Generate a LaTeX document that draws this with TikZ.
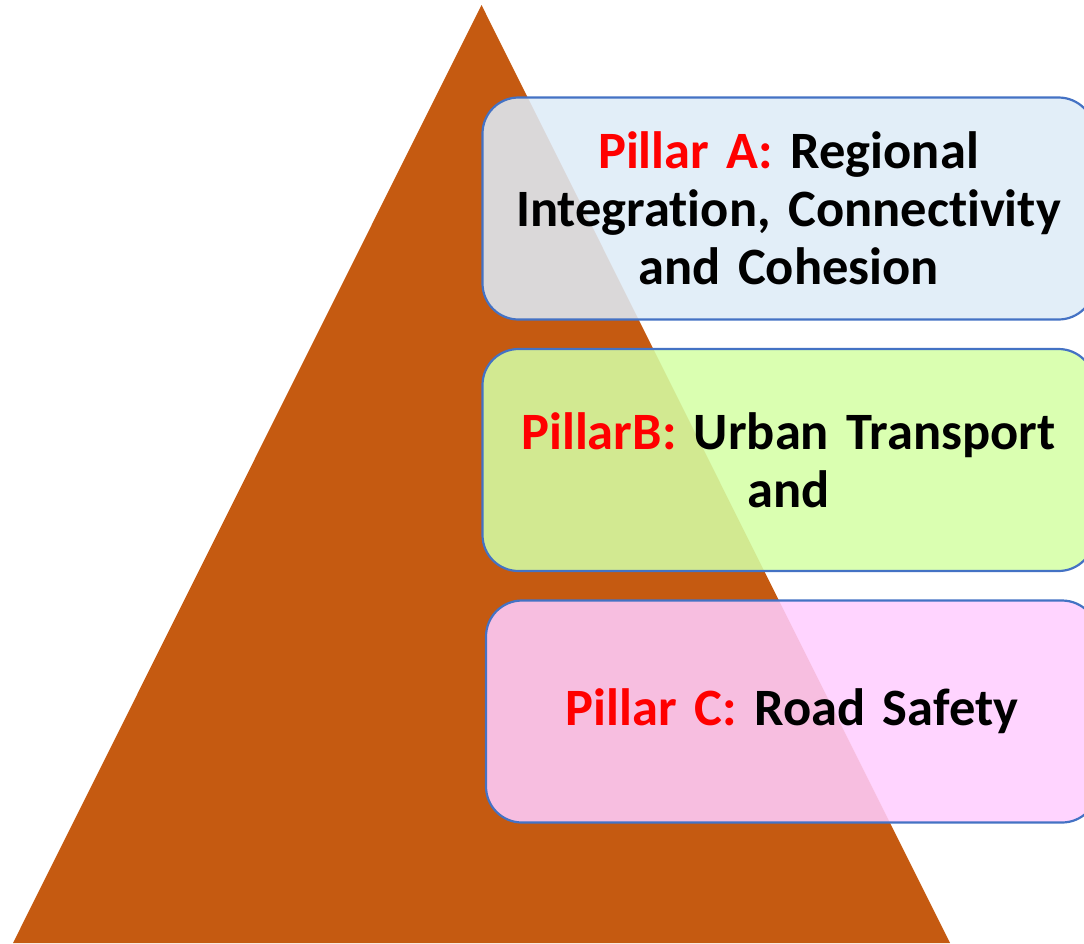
\documentclass[tikz,border=0pt]{standalone}
\usepackage{fontspec}
\setmainfont[Ligatures=CommonOff, WordSpace=0.85]{Carlito}
\usetikzlibrary{positioning}

\definecolor{rustbrown}{RGB}{197,90,17}
\definecolor{boxblue}{RGB}{68,114,196}
\definecolor{paleblue}{RGB}{222,235,247}
\definecolor{palegreen}{RGB}{212,255,165}
\definecolor{palepink}{RGB}{255,206,255}
\tikzstyle{pillarstyle} = [rectangle,
minimum width=612pt,
minimum height=222pt,
text centered,
text width=590pt,
draw=boxblue,
line width=2.2pt,
rounded corners=36pt,
fill opacity=0.87,
text opacity=1,
font=\fontsize{52.5}{58}\selectfont\bfseries]
\newcommand{\pillar}[1]{\textcolor{red}{#1}}

\begin{document}
\begin{tikzpicture}[x=1pt, y=-1pt, node distance=251.5pt]
\useasboundingbox (0,0) rectangle (1084,943);
\clip (0,0) rectangle (1084,943);

% pyramid
\fill [rustbrown] (481.5,5) -- (950,943) -- (13,943) -- cycle;

\node (pillara) [pillarstyle, fill=paleblue] at (788.5,208.5) {\pillar{Pillar A:} Regional\\ Integration, Connectivity\\ and Cohesion};

\node (pillarb) [pillarstyle, fill=palegreen, below of=pillara] {\pillar{PillarB:} Urban Transport\\ and};

\node (pillarc) [pillarstyle, fill=palepink, below of=pillarb, xshift=3.5pt] {\pillar{Pillar C:} Road Safety};
\end{tikzpicture}
\end{document}
